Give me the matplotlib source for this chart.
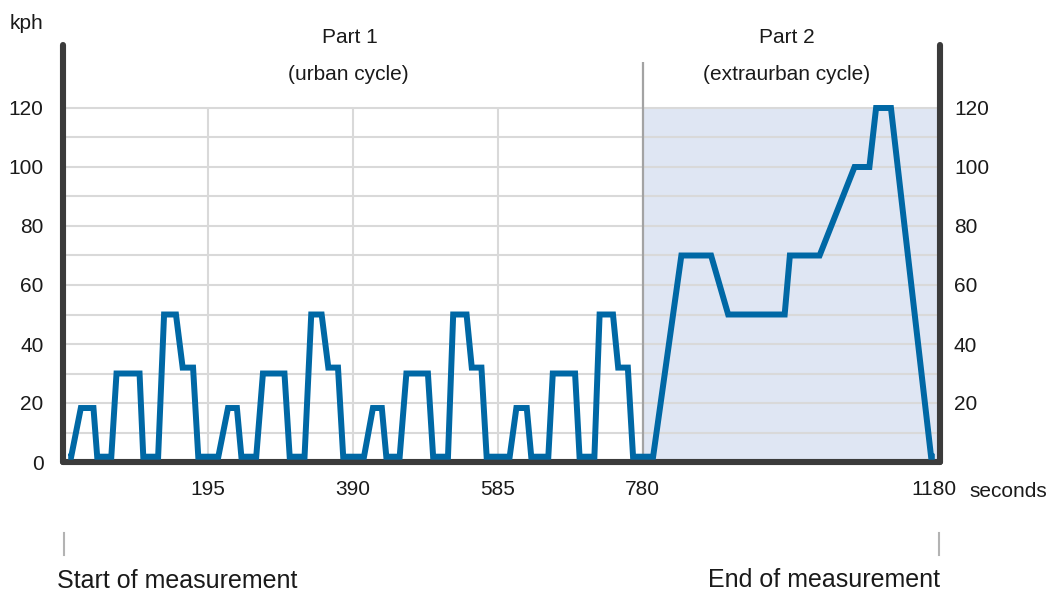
import matplotlib
matplotlib.use('Agg')
import matplotlib.pyplot as plt
from matplotlib.lines import Line2D
from matplotlib.transforms import ScaledTranslation

plt.rcParams['font.family'] = ['Liberation Sans', 'DejaVu Sans']

W, H = 1053, 593

# NEDC speed trace (seconds, kph)
urban_t = [7, 11, 24, 41, 46, 65, 72, 103, 108, 128, 136, 152, 161, 175, 182,
           209, 222, 234, 240, 260, 269, 298, 305, 325, 334, 348, 357, 370, 377,
           405, 417, 429, 435, 453, 462, 491, 498, 518, 525, 543, 550, 563, 570,
           601, 610, 624, 630, 653, 659, 689, 695, 715, 722, 740, 747, 760, 767]
urban_v = [1.8, 1.8, 18.3, 18.3, 1.8, 1.8, 30, 30, 1.8, 1.8, 50, 50, 32, 32, 1.8,
           1.8, 18.3, 18.3, 1.8, 1.8, 30, 30, 1.8, 1.8, 50, 50, 32, 32, 1.8,
           1.8, 18.3, 18.3, 1.8, 1.8, 30, 30, 1.8, 1.8, 50, 50, 32, 32, 1.8,
           1.8, 18.3, 18.3, 1.8, 1.8, 30, 30, 1.8, 1.8, 50, 50, 32, 32, 1.8]
extra_t = [794, 832, 872, 895, 971, 978, 1018, 1065, 1085, 1094, 1114, 1168, 1173]
extra_v = [1.8, 70, 70, 50, 50, 70, 70, 100, 100, 120, 120, 1.8, 1.8]

x_ticks = [195, 390, 585, 780, 1180]
y_ticks_left = [0, 20, 40, 60, 80, 100, 120]
y_ticks_right = [20, 40, 60, 80, 100, 120]
grid_y = [10, 20, 30, 40, 50, 60, 70, 80, 90, 100, 110, 120]
grid_x = [195, 390, 585]
part_split = 780
t_end = 1180
v_top = 120

LINE = '#0068a5'
AXIS = '#3b3b3b'
GRID = '#d9d9d9'
SHADE = '#dfe6f3'


def fx(px):
    return px / W


def fy(py):
    return 1 - py / H


fig = plt.figure(figsize=(W / 100, H / 100), dpi=100)
ax = fig.add_axes([fx(63), fy(462), (940 - 63) / W, (462 - 45) / H])
ax.set_xlim(0, t_end)
ax.set_ylim(0, (462 - 45) / 2.95)

# part 2 shading and grid
ax.axvspan(part_split, t_end, ymin=0, ymax=v_top / ax.get_ylim()[1],
           color=SHADE, lw=0, zorder=0)
ax.hlines(grid_y, 0, t_end, color=GRID, lw=1.5, zorder=1)
ax.vlines(grid_x, 0, v_top, color=GRID, lw=1.5, zorder=1)
ax.vlines([part_split], 0, (462 - 62) / 2.95, color='#a3a3a3', lw=1.6, zorder=1.5)

ax.plot(urban_t + extra_t, urban_v + extra_v, color=LINE, lw=4.3,
        solid_joinstyle='miter', solid_capstyle='butt', zorder=3)

for side in ['left', 'bottom', 'right']:
    ax.spines[side].set_color(AXIS)
    ax.spines[side].set_linewidth(4.4)
    ax.spines[side].set_capstyle('round')
ax.spines['top'].set_visible(False)

ax.set_xticks(x_ticks)
ax.set_xticklabels([str(v) for v in x_ticks])
ax.set_yticks(y_ticks_left)
ax.set_yticklabels([str(v) for v in y_ticks_left])
ax.tick_params(axis='x', length=0, pad=13, labelsize=15, labelcolor='#1a1a1a')
ax.tick_params(axis='y', length=0, pad=14, labelsize=15, labelcolor='#1a1a1a')

# the last label sits a little left of the axis end
last = ax.get_xticklabels()[-1]
last.set_transform(last.get_transform() + ScaledTranslation(-0.06, 0, fig.dpi_scale_trans))

ax2 = ax.twinx()
ax2.set_ylim(ax.get_ylim())
ax2.set_yticks(y_ticks_right)
ax2.set_yticklabels([str(v) for v in y_ticks_right])
ax2.tick_params(axis='y', length=0, pad=10, labelsize=15, labelcolor='#1a1a1a')
for s in ax2.spines.values():
    s.set_visible(False)

txt = dict(color='#1a1a1a', va='baseline')
fig.text(fx(10), fy(29), 'kph', fontsize=15, ha='left', **txt)
fig.text(fx(350), fy(43), 'Part 1', fontsize=15, ha='center', **txt)
fig.text(fx(348), fy(80), '(urban cycle)', fontsize=15, ha='center', **txt)
fig.text(fx(787), fy(43), 'Part 2', fontsize=15, ha='center', **txt)
fig.text(fx(787), fy(80), '(extraurban cycle)', fontsize=15, ha='center', **txt)
fig.text(fx(969), fy(497), 'seconds', fontsize=15, ha='left', **txt)
fig.text(fx(57), fy(588), 'Start of measurement', fontsize=18, ha='left', **txt)
fig.text(fx(940), fy(587), 'End of measurement', fontsize=18, ha='right', **txt)

for px in [64, 939]:
    fig.add_artist(Line2D([fx(px), fx(px)], [fy(533), fy(555)],
                          color='#b3b3b3', lw=1.5, transform=fig.transFigure))

fig.savefig('out.png', dpi=100)
